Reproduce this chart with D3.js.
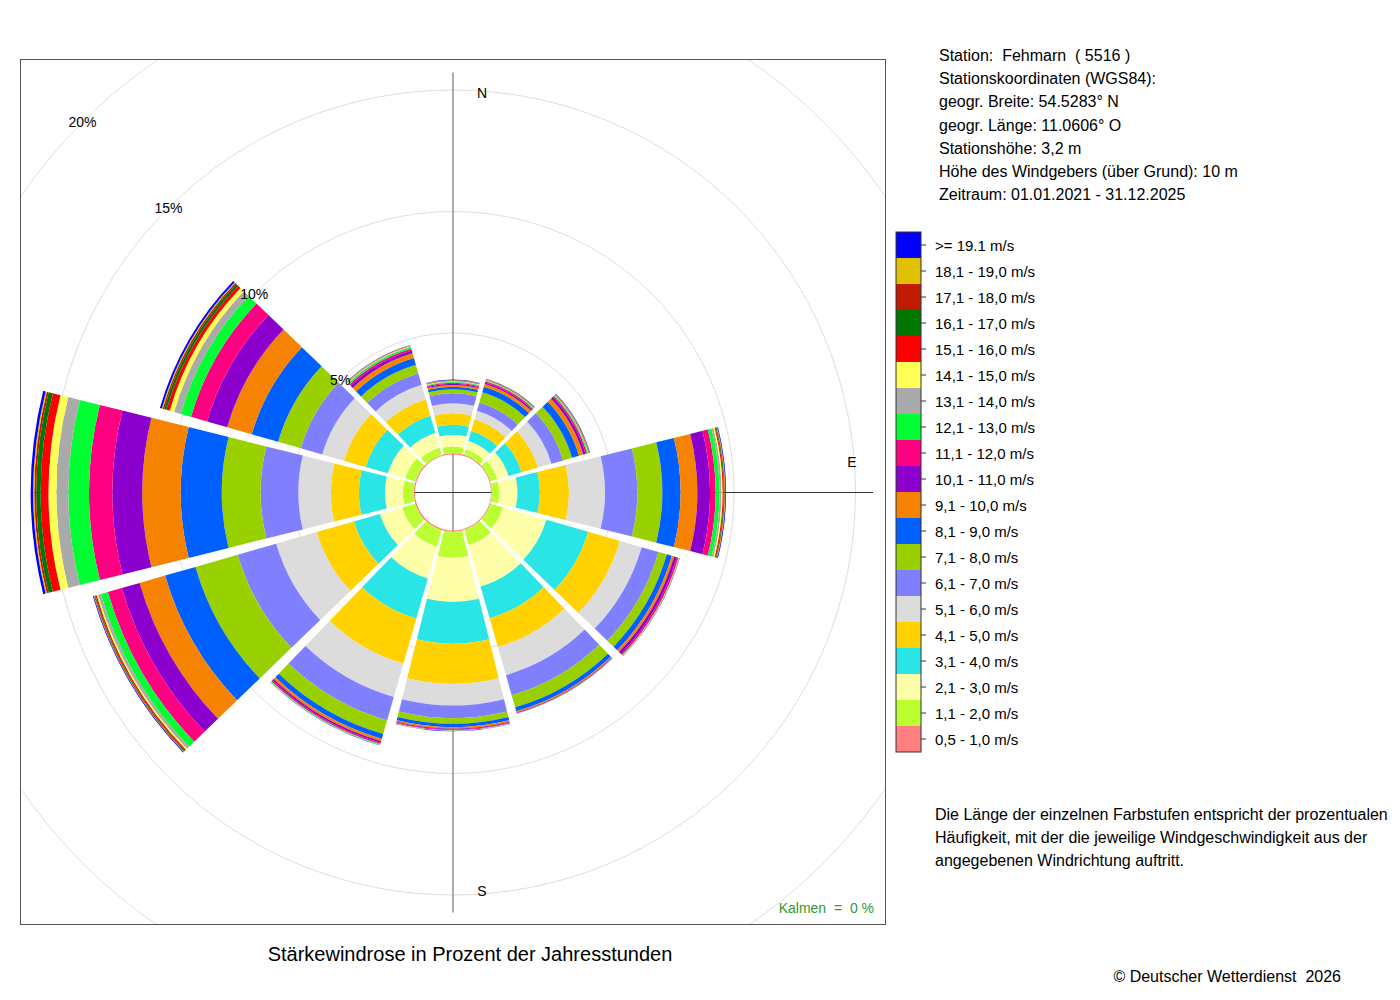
<!DOCTYPE html>
<html>
<head>
<meta charset="utf-8">
<script src="https://d3js.org/d3.v7.min.js"></script>
<style>
  body { margin: 0; background: #fff; }
  text { font-family: "Liberation Sans", Arial, Helvetica, sans-serif; white-space: pre; }
</style>
</head>
<body>
<svg width="1400" height="1000"></svg>
<script>
// wind directions (degrees, clockwise from N)
const directions = [0, 30, 60, 90, 120, 150, 180, 210, 240, 270, 300, 330];

// speed classes, lowest first
const speedClasses = ["0,5 - 1,0 m/s", "1,1 - 2,0 m/s", "2,1 - 3,0 m/s", "3,1 - 4,0 m/s",
  "4,1 - 5,0 m/s", "5,1 - 6,0 m/s", "6,1 - 7,0 m/s", "7,1 - 8,0 m/s", "8,1 - 9,0 m/s",
  "9,1 - 10,0 m/s", "10,1 - 11,0 m/s", "11,1 - 12,0 m/s", "12,1 - 13,0 m/s", "13,1 - 14,0 m/s",
  "14,1 - 15,0 m/s", "15,1 - 16,0 m/s", "16,1 - 17,0 m/s", "17,1 - 18,0 m/s", "18,1 - 19,0 m/s",
  ">= 19.1 m/s"];
const classColors = ["#ff7f7f", "#bbff33", "#ffffaa", "#2ae5e5", "#ffd200", "#dcdcdc",
  "#8080ff", "#99d100", "#005fff", "#f58200", "#8b00cc", "#ff0080", "#00ff33", "#aaaaaa",
  "#ffff55", "#ff0000", "#007700", "#c01a00", "#e0c000", "#0000ff"];

// percent of hours per speed class, one list per direction
const d000 = [0.05, 0.28, 0.48, 0.41, 0.48, 0.41, 0.41, 0.16, 0.11, 0.07, 0.05, 0.04, 0.03, 0.02, 0.02, 0.01, 0.01, 0.01, 0.01, 0.02];
const d030 = [0.05, 0.24, 0.36, 0.43, 0.50, 0.36, 0.36, 0.43, 0.24, 0.12, 0.06, 0.05, 0.03, 0.02, 0.01, 0.01, 0.01, 0.01, 0.01, 0.01];
const d060 = [0.04, 0.30, 0.48, 0.56, 0.70, 0.58, 0.50, 0.38, 0.30, 0.18, 0.10, 0.06, 0.04, 0.02, 0.01, 0.01, 0.01, 0.01, 0.01, 0.02];
const d090 = [0.03, 0.31, 0.75, 0.92, 1.20, 1.48, 1.33, 1.03, 0.75, 0.69, 0.52, 0.23, 0.16, 0.08, 0.05, 0.04, 0.03, 0.02, 0.02, 0.03];
const d120 = [0.04, 0.55, 1.85, 1.79, 1.36, 0.93, 0.72, 0.36, 0.21, 0.10, 0.11, 0.07, 0.02, 0.01, 0.01, 0.01, 0.00, 0.00, 0.00, 0.01];
const d150 = [0.04, 0.66, 1.77, 1.36, 1.23, 1.20, 0.86, 0.52, 0.17, 0.05, 0.02, 0.02, 0.01, 0.01, 0.00, 0.00, 0.00, 0.00, 0.00, 0.00];
const d180 = [0.05, 1.07, 1.82, 1.72, 1.65, 0.89, 0.52, 0.23, 0.14, 0.06, 0.04, 0.03, 0.01, 0.01, 0.01, 0.00, 0.00, 0.00, 0.00, 0.01];
const d210 = [0.05, 0.71, 1.36, 1.72, 1.93, 1.43, 1.00, 0.58, 0.21, 0.10, 0.07, 0.05, 0.03, 0.01, 0.01, 0.00, 0.00, 0.00, 0.00, 0.01];
const d240 = [0.06, 0.56, 0.95, 1.11, 1.60, 1.73, 1.65, 1.81, 1.30, 1.09, 0.76, 0.60, 0.30, 0.12, 0.06, 0.05, 0.03, 0.03, 0.02, 0.03];
const d270 = [0.05, 0.45, 0.74, 1.07, 1.16, 1.33, 1.55, 1.60, 1.69, 1.58, 1.23, 0.96, 0.85, 0.49, 0.33, 0.32, 0.18, 0.08, 0.05, 0.10];
const d300 = [0.05, 0.44, 0.74, 0.95, 0.93, 0.93, 0.92, 0.97, 1.13, 1.05, 0.86, 0.69, 0.44, 0.28, 0.19, 0.14, 0.10, 0.06, 0.04, 0.08];
const d330 = [0.04, 0.33, 0.62, 0.74, 0.70, 0.62, 0.49, 0.37, 0.29, 0.20, 0.12, 0.08, 0.06, 0.03, 0.02, 0.01, 0.01, 0.01, 0.01, 0.01];
const frequencies = [d000, d030, d060, d090, d120, d150, d180, d210, d240, d270, d300, d330];

const gridPercents = [5, 10, 15, 20];
const compassLabels = ["N", "E", "S", "W"];

const stationInfo = ["Station:  Fehmarn  ( 5516 )", "Stationskoordinaten (WGS84):",
  "geogr. Breite: 54.5283\u00b0 N", "geogr. L\u00e4nge: 11.0606\u00b0 O", "Stationsh\u00f6he: 3,2 m",
  "H\u00f6he des Windgebers (\u00fcber Grund): 10 m", "Zeitraum: 01.01.2021 - 31.12.2025"];
const noteLines = ["Die L\u00e4nge der einzelnen Farbstufen entspricht der prozentualen",
  "H\u00e4ufigkeit, mit der die jeweilige Windgeschwindigkeit aus der",
  "angegebenen Windrichtung auftritt."];
const calmText = "Kalmen  =  0 %";
const titleText = "St\u00e4rkewindrose in Prozent der Jahresstunden";
const copyText = "\u00a9 Deutscher Wetterdienst  2026";

const svg = d3.select("svg");
const cx = 453, cy = 492.5;
const r = d3.scaleLinear().domain([0, 20]).range([38, 524]);
const rad = Math.PI / 180;

svg.append("defs").append("clipPath").attr("id", "frame")
  .append("rect").attr("x", 20).attr("y", 59).attr("width", 866).attr("height", 866);

const g = svg.append("g").attr("clip-path", "url(#frame)")
  .append("g").attr("transform", "translate(" + cx + "," + cy + ")");

// grid circles
g.selectAll("circle.grid").data(gridPercents).enter().append("circle")
  .attr("class", "grid")
  .attr("r", d => r(d))
  .attr("fill", "none").attr("stroke", "#dedede").attr("stroke-width", 1);

// axes cross
g.append("line").attr("x1", 0).attr("x2", 0).attr("y1", -420).attr("y2", 420)
  .attr("stroke", "#999").attr("stroke-width", 1.6);
g.append("line").attr("x1", -420).attr("x2", 420).attr("y1", 0).attr("y2", 0)
  .attr("stroke", "#333").attr("stroke-width", 1);

// compass letters
g.selectAll("text.dir").data(compassLabels).enter().append("text")
  .attr("class", "dir")
  .attr("x", (d, i) => 399 * Math.sin(i * 90 * rad) + (i % 2 === 0 ? 29 : 0))
  .attr("y", (d, i) => -399 * Math.cos(i * 90 * rad) + (i % 2 === 1 ? -30 : 0))
  .attr("text-anchor", "middle").attr("dy", "0.35em")
  .attr("font-size", 14).text(d => d);

// stacked sectors
const segs = [];
frequencies.forEach((vals, i) => {
  let cum = 0;
  vals.forEach((v, j) => {
    segs.push({ dir: directions[i], cls: j, p0: cum, p1: cum + v });
    cum += v;
  });
});

const arc = d3.arc()
  .innerRadius(d => r(d.p0))
  .outerRadius(d => r(d.p1))
  .startAngle(d => (d.dir - (d.cls === 0 ? 15 : 14)) * rad)
  .endAngle(d => (d.dir + (d.cls === 0 ? 15 : 14)) * rad)
  .padAngle(d => d.cls === 0 ? 0 : 0.01)
  .padRadius(100);

g.selectAll("path.seg").data(segs.filter(d => d.p1 > d.p0)).enter().append("path")
  .attr("class", "seg")
  .attr("d", arc)
  .attr("fill", d => classColors[d.cls]);

// percent labels along NW
g.selectAll("text.pct").data(gridPercents).enter().append("text")
  .attr("class", "pct")
  .attr("x", d => r(d) * Math.sin(315 * rad))
  .attr("y", d => -r(d) * Math.cos(315 * rad))
  .attr("text-anchor", "middle").attr("dy", "0.35em")
  .attr("font-size", 14).text(d => d + "%");

// frame
svg.append("rect").attr("x", 20.5).attr("y", 59.5).attr("width", 865).attr("height", 865)
  .attr("fill", "none").attr("stroke", "#555").attr("stroke-width", 1);

svg.append("text").attr("x", 874).attr("y", 913).attr("text-anchor", "end")
  .attr("font-size", 14).attr("fill", "#2f9a2f").text(calmText);

svg.append("text").attr("x", 470).attr("y", 961).attr("text-anchor", "middle")
  .attr("font-size", 20).text(titleText);

svg.append("text").attr("x", 1341).attr("y", 982).attr("text-anchor", "end")
  .attr("font-size", 16).text(copyText);

// station info
svg.selectAll("text.info").data(stationInfo).enter().append("text")
  .attr("class", "info")
  .attr("x", 939).attr("y", (d, i) => 61 + i * 23.2)
  .attr("font-size", 16).text(d => d);

svg.selectAll("text.note").data(noteLines).enter().append("text")
  .attr("class", "note")
  .attr("x", 935).attr("y", (d, i) => 820 + i * 23)
  .attr("font-size", 16).text(d => d);

// legend (highest class on top)
const legendOrder = d3.range(speedClasses.length).reverse();
const ly = d3.scaleBand().domain(legendOrder).range([232, 752]);
const leg = svg.append("g");
leg.selectAll("rect.cell").data(legendOrder).enter().append("rect")
  .attr("class", "cell")
  .attr("x", 896).attr("y", d => ly(d)).attr("width", 25).attr("height", ly.bandwidth())
  .attr("fill", d => classColors[d]);
leg.append("rect").attr("x", 896).attr("y", 232).attr("width", 25).attr("height", 520)
  .attr("fill", "none").attr("stroke", "#333").attr("stroke-width", 1);
leg.selectAll("line.tick").data(legendOrder).enter().append("line")
  .attr("class", "tick")
  .attr("x1", 921).attr("x2", 926)
  .attr("y1", d => ly(d) + ly.bandwidth() / 2).attr("y2", d => ly(d) + ly.bandwidth() / 2)
  .attr("stroke", "#333");
leg.selectAll("text.lab").data(legendOrder).enter().append("text")
  .attr("class", "lab")
  .attr("x", 935).attr("y", d => ly(d) + ly.bandwidth() / 2 + 1).attr("dy", "0.35em")
  .attr("font-size", 15).text(d => speedClasses[d]);
</script>
</body>
</html>
